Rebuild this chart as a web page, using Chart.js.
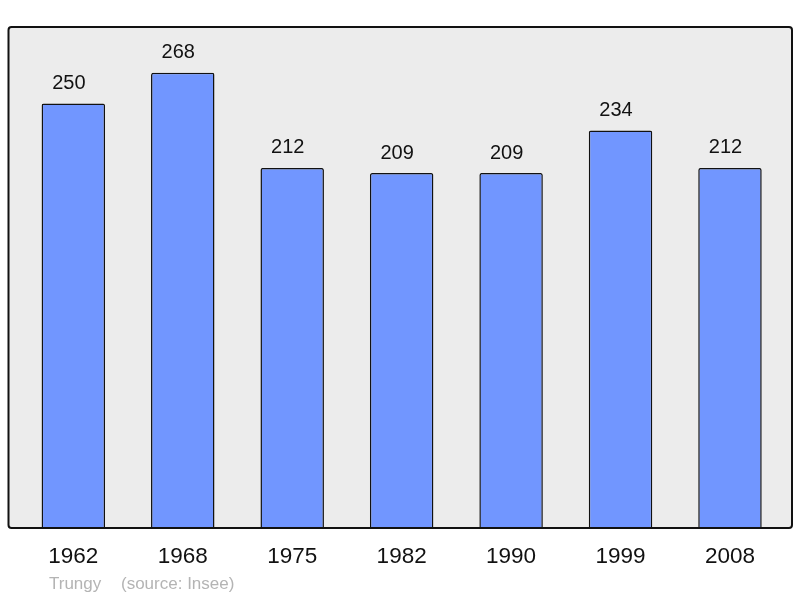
<!DOCTYPE html>
<html>
<head>
<meta charset="utf-8">
<script src="https://cdn.jsdelivr.net/npm/chart.js@4/dist/chart.umd.min.js"></script>
<style>
html,body{margin:0;padding:0;background:#fff;}
#wrap{width:800px;height:598px;position:relative;}
</style>
</head>
<body>
<div id="wrap"><canvas id="c" width="800" height="598"></canvas></div>
<script>
const years = ["1962","1968","1975","1982","1990","1999","2008"];
const population = [250,268,212,209,209,234,212];
const footerName = "Trungy";
const footerSource = "(source: Insee)";

const FONT = "'Liberation Sans', Arial, sans-serif";

const framePlugin = {
  id: 'frame',
  beforeDraw(chart) {
    const ctx = chart.ctx;
    ctx.save();
    ctx.fillStyle = '#ececec';
    roundRect(ctx, 8.5, 27, 783.5, 501, 3);
    ctx.fill();
    ctx.restore();
  },
  afterDatasetsDraw(chart) {
    const ctx = chart.ctx;
    ctx.save();
    ctx.strokeStyle = '#111';
    ctx.lineWidth = 2;
    roundRect(ctx, 8.5, 27, 783.5, 501, 3);
    ctx.stroke();
    const meta = chart.getDatasetMeta(0);
    ctx.fillStyle = '#111';
    ctx.font = "20px " + FONT;
    ctx.textAlign = 'center';
    ctx.textBaseline = 'alphabetic';
    meta.data.forEach((bar, i) => {
      ctx.fillText(String(chart.data.datasets[0].data[i]), bar.x - 4.5, bar.y - 14.5);
    });
    ctx.fillStyle = '#b4b4b4';
    ctx.font = "17px " + FONT;
    ctx.textAlign = 'left';
    ctx.fillText(footerName, 49, 589);
    ctx.fillText(footerSource, 121, 589);
    ctx.restore();
  }
};
function roundRect(ctx, x, y, w, h, r) {
  ctx.beginPath();
  ctx.moveTo(x + r, y);
  ctx.lineTo(x + w - r, y);
  ctx.arcTo(x + w, y, x + w, y + r, r);
  ctx.lineTo(x + w, y + h - r);
  ctx.arcTo(x + w, y + h, x + w - r, y + h, r);
  ctx.lineTo(x + r, y + h);
  ctx.arcTo(x, y + h, x, y + h - r, r);
  ctx.lineTo(x, y + r);
  ctx.arcTo(x, y, x + r, y, r);
  ctx.closePath();
}

new Chart(document.getElementById('c'), {
  type: 'bar',
  data: {
    labels: years,
    datasets: [{
      data: population,
      backgroundColor: '#7196ff',
      borderColor: '#111',
      borderWidth: 1.5,
      borderRadius: {topLeft: 2, topRight: 2, bottomLeft: 0, bottomRight: 0},
      borderSkipped: 'bottom',
      barPercentage: 0.58,
      categoryPercentage: 1.0
    }]
  },
  options: {
    responsive: false,
    animation: false,
    devicePixelRatio: 1,
    layout: { padding: { left: 18.6, right: 15.3, top: 27, bottom: 13 } },
    plugins: { legend: { display: false }, tooltip: { enabled: false } },
    scales: {
      x: {
        grid: { display: false, drawTicks: false },
        border: { display: false },
        ticks: { color: '#111', font: { size: 22.5, family: FONT }, padding: 15, maxRotation: 0 }
      },
      y: {
        display: false,
        min: 0,
        max: 295
      }
    }
  },
  plugins: [framePlugin]
});
</script>
</body>
</html>
